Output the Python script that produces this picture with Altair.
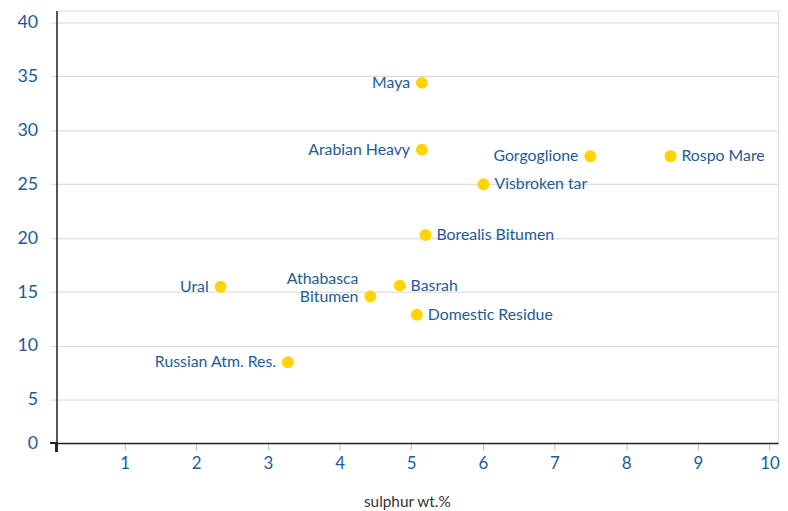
import altair as alt
import pandas as pd

names = ["Maya", "Arabian Heavy", "Gorgoglione", "Rospo Mare", "Visbroken tar",
         "Borealis Bitumen", "Ural", "Athabasca\nBitumen", "Basrah",
         "Domestic Residue", "Russian Atm. Res."]
sulphur = [5.15, 5.15, 7.50, 8.62, 6.01, 5.20, 2.34, 4.43, 4.84, 5.08, 3.28]
values = [34.4, 28.2, 27.6, 27.6, 25.0, 20.3, 15.5, 14.6, 15.6, 12.9, 8.5]
side = ["left", "left", "left", "right", "right", "right", "left", "multi",
        "right", "right", "left"]

df = pd.DataFrame({"name": names, "sulphur": sulphur, "value": values, "side": side})

W, H = 729, 437
BLUE = "#1d5b97"
FONT = "Lato"

x = alt.X("sulphur:Q", scale=alt.Scale(domain=[0.05, 10.12], nice=False, zero=False),
          axis=alt.Axis(values=list(range(1, 11)), title="sulphur wt.%", grid=False,
                        domainColor="#222", domainWidth=1.5, tickColor="#bbbbbb",
                        tickSize=7, labelPadding=6, labelColor=BLUE, labelFontSize=17,
                        labelFont=FONT, titleFont=FONT, titleFontSize=15.5,
                        titleFontWeight="normal", titleColor="#333", titlePadding=23,
                        titleX=354, titleAlign="center"))
y = alt.Y("value:Q", scale=alt.Scale(domain=[1.0, 41.1], nice=False, zero=False),
          axis=alt.Axis(values=[1, 5, 10, 15, 20, 25, 30, 35, 40], title=None,
                        labelExpr="datum.value == 1 ? '0' : datum.label",
                        grid=True, gridColor="#d6d6d6", gridWidth=1,
                        domainColor="#222", domainWidth=1.5, tickColor="#d6d6d6",
                        tickSize=6, labelPadding=13, labelColor=BLUE, labelFontSize=18,
                        labelFont=FONT))

base = alt.Chart(df)

points = base.mark_circle(size=145, color="#FFD400", opacity=1).encode(x=x, y=y)

left_lbl = base.transform_filter("datum.side == 'left'").mark_text(
    align="right", baseline="middle", dx=-12, font=FONT, fontSize=16, color=BLUE
).encode(x=x, y=y, text="name:N")

right_lbl = base.transform_filter("datum.side == 'right'").mark_text(
    align="left", baseline="middle", dx=11, font=FONT, fontSize=16, color=BLUE
).encode(x=x, y=y, text="name:N")

multi_lbl = base.transform_filter("datum.side == 'multi'").mark_text(
    align="right", baseline="bottom", dx=-12, dy=-10, lineBreak="\n", lineHeight=19,
    font=FONT, fontSize=16, color=BLUE
).encode(x=x, y=y, text="name:N")

# small axis-line extensions past the corner
ext_x = alt.Chart(df).mark_rule(color="#222", strokeWidth=1.5).encode(
    x=alt.value(-6), x2=alt.value(0), y=alt.value(H))
ext_y = alt.Chart(df).mark_rule(color="#222", strokeWidth=1.5).encode(
    x=alt.value(0), y=alt.value(H), y2=alt.value(H + 9))

chart = alt.layer(points, left_lbl, right_lbl, multi_lbl, ext_x, ext_y).properties(
    width=W, height=H, padding={"left": 9, "top": 0, "right": 0, "bottom": 0}
).configure_view(stroke=None).configure(background="white")

chart.save("out.html", embed_options={"renderer": "svg", "actions": False})
